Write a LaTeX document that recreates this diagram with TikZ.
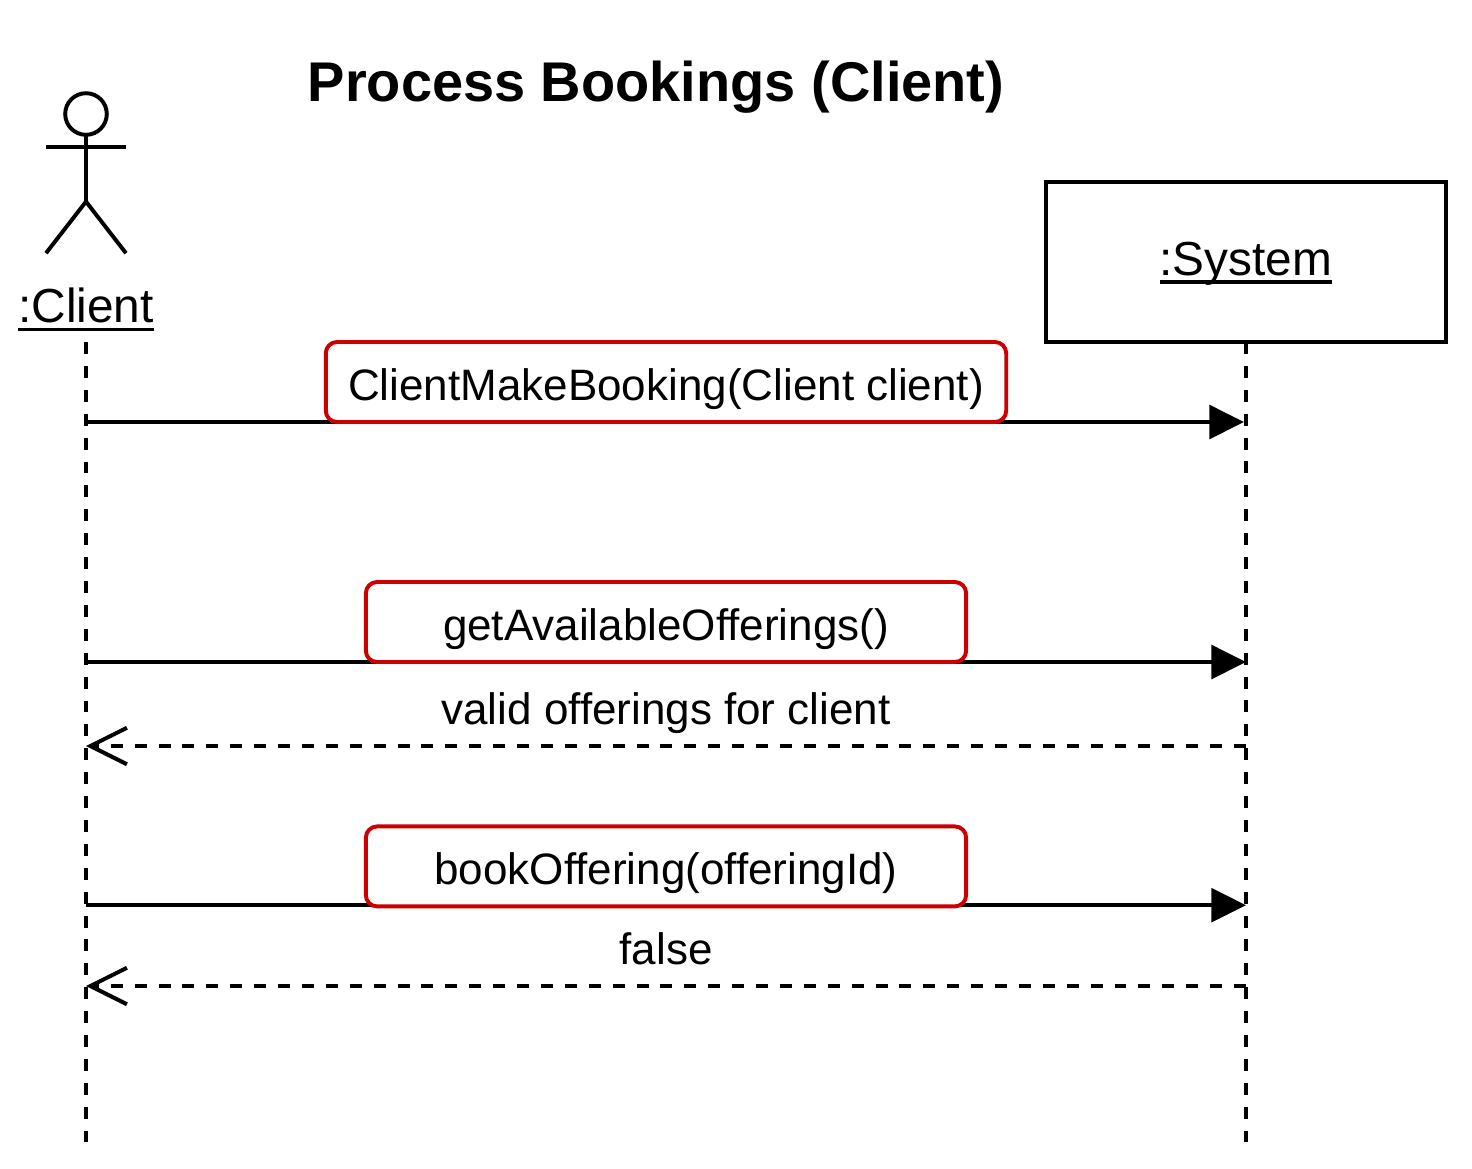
\documentclass[tikz,border=0pt]{standalone}
\usepackage{fontspec}
\setmainfont{Liberation Sans}
\usetikzlibrary{positioning,calc,arrows.meta}
\definecolor{labelred}{RGB}{204,0,0}
\newcommand{\txtsize}{\fontsize{31.3}{38}\selectfont}
\newcommand{\actorsize}{\fontsize{34}{40}\selectfont}
\newcommand{\ulabel}[1]{\vtop{\hbox{\raisebox{0pt}[\height][0pt]{#1}}\kern3.6pt\hrule height 2.4pt}}

\begin{document}
\begin{tikzpicture}[
actorline/.style={line width=2.8pt},
lifeline/.style={line width=2.8pt, dash pattern=on 8.5pt off 8.5pt},
callmsg/.style={line width=2.8pt, -{Triangle[length=24.7pt,width=24pt]}},
replymsg/.style={line width=2.8pt, dash pattern=on 8.5pt off 8.5pt, -{Straight Barb[length=26pt,width=26pt,line width=2.8pt]}},
msglabel/.style={draw=labelred, line width=2.8pt, fill=white, rounded corners=8pt, minimum height=56.9pt, inner sep=0pt, outer sep=0pt, align=center, font=\txtsize, text=black, text height=32pt, text depth=6pt},
plainlabel/.style={font=\txtsize, inner sep=0pt, anchor=base}]

\useasboundingbox (0,0) rectangle (36.8,-29.2);

% TITLE

\node [font=\fontsize{39.8}{48}\selectfont\bfseries, inner sep=0pt, anchor=base] (title) at (16.4,-2.53) {Process Bookings (Client)};

% ACTORS

\coordinate (clienthead) at (2.15,-2.85);
\draw [actorline] (clienthead) circle (0.52);
\coordinate (clientneck) at (2.15,-3.37);
\coordinate (clienthip) at (2.15,-5.04);
\draw [actorline] (clientneck) -- (clienthip);
\draw [actorline] (1.15,-3.68) -- (3.15,-3.68);
\draw [actorline] (1.15,-6.33) -- (clienthip) -- (3.15,-6.33);
\node [plainlabel, font=\actorsize] (client) at (2.15,-8.07) {\ulabel{:Client}};

\node [draw, line width=2.8pt, minimum width=284.5pt, minimum height=113.8pt, inner sep=0pt, outer sep=0pt, font=\actorsize, text height=28pt, text depth=9pt, anchor=north west] (system) at (26.15,-4.55) {\ulabel{:System}};

% LIFELINES

\coordinate (clienttop) at (2.15,-8.55);
\coordinate (clientend) at (2.15,-28.55);
\coordinate (systemend) at (system.south |- clientend);
\draw [lifeline] (clienttop) -- (clientend);
\draw [lifeline] (system.south) -- (systemend);

% MESSAGES

\coordinate (c1) at (2.15,-10.55);
\coordinate (c2) at (2.15,-16.55);
\coordinate (c3) at (2.15,-18.65);
\coordinate (c4) at (2.15,-22.63);
\coordinate (c5) at (2.15,-24.65);

\draw [callmsg] (c1) -- ($(system.south |- c1)+(-0.05,0)$);
\draw [callmsg] (c2) -- (system.south |- c2);
\draw [replymsg] (system.south |- c3) -- (c3);
\draw [callmsg] (c4) -- (system.south |- c4);
\draw [replymsg] (system.south |- c5) -- (c5);

\node [msglabel, minimum width=484pt, anchor=south] (makebooking) at ($(c1)+(14.5,0)$) {ClientMakeBooking(Client client)};
\node [msglabel, minimum width=427pt, anchor=south] (getofferings) at ($(c2)+(14.5,0)$) {getAvailableOfferings()};
\node [plainlabel] (validofferings) at (16.65,-18.1) {valid offerings for client};
\node [msglabel, minimum width=427pt, anchor=south] (bookoffering) at ($(c4)+(14.5,-0.03)$) {bookOffering(offeringId)};
\node [plainlabel] (falsereply) at (16.65,-24.1) {false};

\end{tikzpicture}
\end{document}
